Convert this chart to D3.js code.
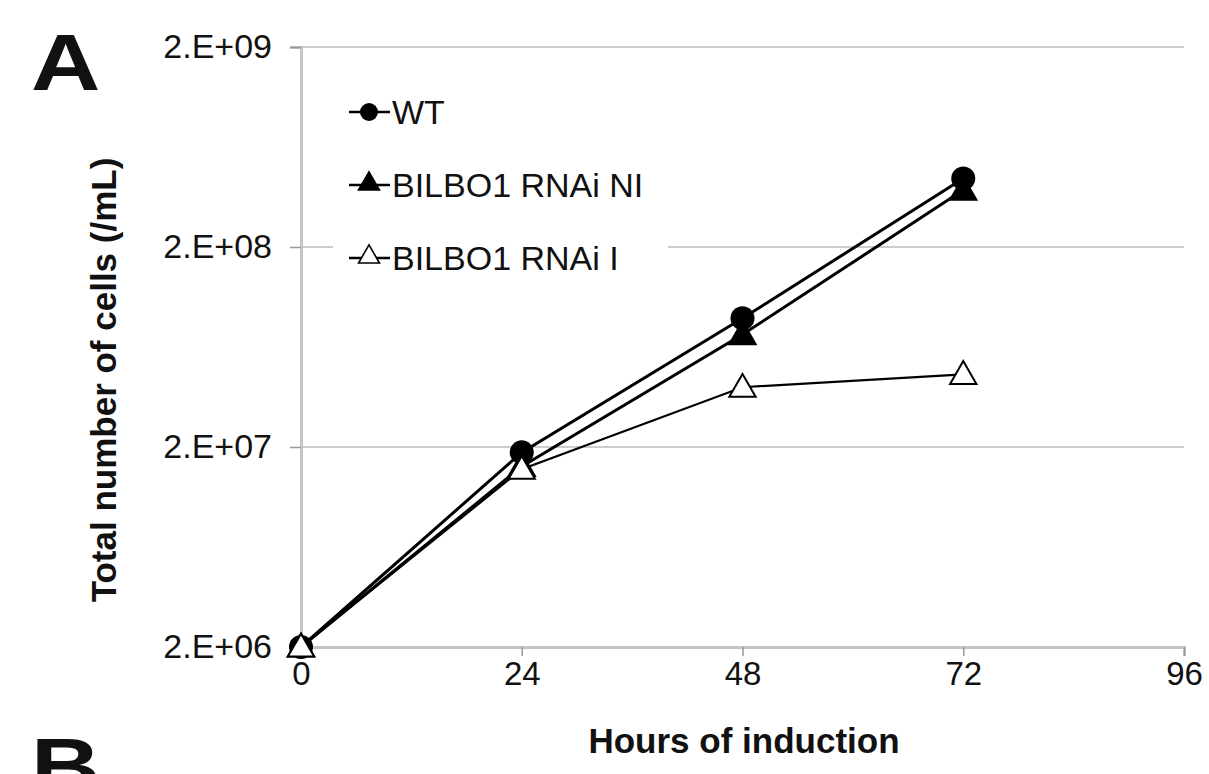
<!DOCTYPE html>
<html lang="en">
<head>
<meta charset="UTF-8">
<title>Total number of cells</title>
<script src="https://d3js.org/d3.v7.min.js"></script>
<style>
    body { margin: 0; background: white; }
    text { font-family: "Liberation Sans", Arial, sans-serif; fill: #111; }
</style>
</head>
<body>
<svg width="1209" height="774"></svg>
<script>
    // data
    var hours = [0, 24, 48, 72];
    var wtCells = [2.0e6, 1.88e7, 8.8e7, 4.4e8];
    var niCells = [2.0e6, 1.6e7, 7.3e7, 3.85e8];
    var iCells  = [2.0e6, 1.55e7, 3.98e7, 4.62e7];
    var seriesNames = ["WT", "BILBO1 RNAi NI", "BILBO1 RNAi I"];
    var xTicks = [0, 24, 48, 72, 96];
    var yTicks = [2e6, 2e7, 2e8, 2e9];
    var yTickLabels = ["2.E+06", "2.E+07", "2.E+08", "2.E+09"];

    var svg = d3.select("svg");
    var plotLeft = 301, plotRight = 1184, plotTop = 47, plotBottom = 647;

    var x = d3.scaleLinear().domain([0, 96]).range([plotLeft, plotRight]);
    var y = d3.scaleLog().domain([2e6, 2e9]).range([plotBottom, plotTop]);

    // panel letters (a bit wider than plain Arial Bold in the figure)
    svg.append("text").attr("transform", "translate(31,90) scale(1.2,1)")
        .attr("font-size", "80px").attr("font-weight", "bold").text("A");
    svg.append("text").attr("transform", "translate(31,794) scale(1.2,1)")
        .attr("font-size", "80px").attr("font-weight", "bold").text("B");

    // gridlines
    svg.append("g").selectAll("line")
        .data(yTicks.slice(1))
        .enter().append("line")
        .attr("x1", plotLeft).attr("x2", plotRight)
        .attr("y1", function(d) { return y(d); })
        .attr("y2", function(d) { return y(d); })
        .attr("stroke", "#bdbdbd").attr("stroke-width", 1.5);

    // y axis
    var yAxis = svg.append("g")
        .attr("transform", "translate(" + plotLeft + ",0)")
        .call(d3.axisLeft(y).tickValues(yTicks).tickSize(11).tickPadding(18)
            .tickFormat(function(d, i) { return yTickLabels[i]; }));
    yAxis.select(".domain").attr("stroke", "#c4c4c4").attr("stroke-width", 3);
    yAxis.selectAll(".tick line").attr("stroke", "#9a9a9a").attr("stroke-width", 1.5);
    yAxis.selectAll(".tick text").attr("font-size", "34px").attr("fill", "#111")
        .attr("font-family", "Liberation Sans, Arial, sans-serif");

    // x axis
    var xAxis = svg.append("g")
        .attr("transform", "translate(0," + plotBottom + ")")
        .call(d3.axisBottom(x).tickValues(xTicks).tickSize(9).tickPadding(6));
    xAxis.select(".domain").attr("stroke", "#c4c4c4").attr("stroke-width", 3);
    xAxis.selectAll(".tick line").attr("stroke", "#9a9a9a").attr("stroke-width", 1.5);
    xAxis.selectAll(".tick text").attr("font-size", "33px").attr("fill", "#111")
        .attr("font-family", "Liberation Sans, Arial, sans-serif");

    // axis titles
    svg.append("text")
        .attr("transform", "translate(116," + ((plotTop + plotBottom) / 2 + 33) + ") rotate(-90)")
        .attr("text-anchor", "middle")
        .attr("font-size", "35px").attr("font-weight", "bold")
        .text("Total number of cells (/mL)");
    svg.append("text")
        .attr("x", 744).attr("y", 753)
        .attr("text-anchor", "middle")
        .attr("font-size", "35px").attr("font-weight", "bold")
        .text("Hours of induction");

    // legend box
    var legend = svg.append("g").attr("transform", "translate(333, 70)");
    legend.append("rect").attr("x", 0).attr("y", 0)
        .attr("width", 335).attr("height", 225).attr("fill", "white");

    var triangle = d3.symbol().type(d3.symbolTriangle);

    function drawSeries(values, kind, lineWidth) {
        var pts = hours.map(function(h, i) { return [x(h), y(values[i])]; });
        svg.append("path")
            .attr("d", d3.line()(pts))
            .attr("fill", "none").attr("stroke", "black")
            .attr("stroke-width", lineWidth);
        var g = svg.append("g");
        pts.forEach(function(p) {
            if (kind === "circle") {
                g.append("circle").attr("cx", p[0]).attr("cy", p[1]).attr("r", 12)
                    .attr("fill", "black");
            } else {
                g.append("path")
                    .attr("d", triangle.size(300)())
                    .attr("transform", "translate(" + p[0] + "," + (p[1] + 2) + ")")
                    .attr("fill", kind === "filled" ? "black" : "white")
                    .attr("stroke", "black").attr("stroke-width", 2);
            }
        });
    }

    drawSeries(wtCells, "circle", 3);
    drawSeries(niCells, "filled", 3);
    drawSeries(iCells, "open", 2.2);

    // legend entries
    var kinds = ["circle", "filled", "open"];
    seriesNames.forEach(function(name, i) {
        var ly = 42 + i * 73;
        legend.append("line").attr("x1", 16).attr("x2", 57)
            .attr("y1", ly).attr("y2", ly)
            .attr("stroke", "black").attr("stroke-width", 2.5);
        if (kinds[i] === "circle") {
            legend.append("circle").attr("cx", 36).attr("cy", ly).attr("r", 9).attr("fill", "black");
        } else {
            legend.append("path")
                .attr("d", triangle.size(190)())
                .attr("transform", "translate(36," + (ly - 1) + ")")
                .attr("fill", kinds[i] === "filled" ? "black" : "white")
                .attr("stroke", "black").attr("stroke-width", 1.6);
        }
        legend.append("text").attr("x", 59).attr("y", ly + 12)
            .attr("font-size", "34px").text(name);
    });
</script>
</body>
</html>
